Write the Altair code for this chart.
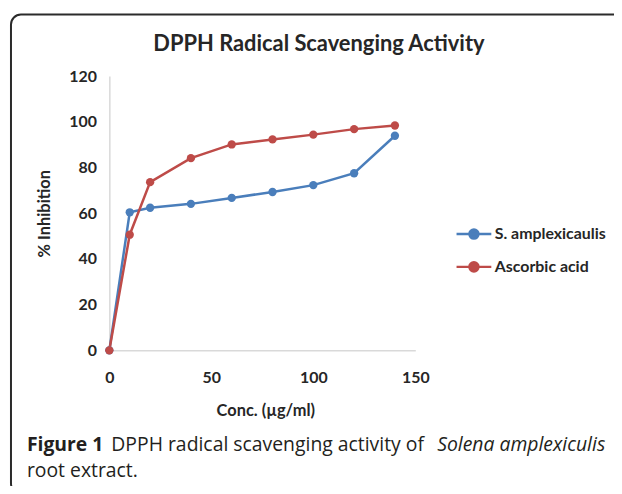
import altair as alt
import pandas as pd

conc = [0, 10, 20, 40, 60, 80, 100, 120, 140]
s_amplexicaulis = [0, 60.4, 62.4, 64.1, 66.7, 69.3, 72.3, 77.5, 93.9]
ascorbic_acid = [0, 50.6, 73.6, 84.1, 90.1, 92.3, 94.4, 96.8, 98.4]
series_names = ["S. amplexicaulis", "Ascorbic acid"]
series_colors = ["#4A7EBB", "#BE4B48"]
y_ticks = [0, 20, 40, 60, 80, 100, 120]
x_ticks = [0, 50, 100, 150]

rows = []
for name, vals in zip(series_names, [s_amplexicaulis, ascorbic_acid]):
    for c, v in zip(conc, vals):
        rows.append({"conc": c, "inh": v, "series": name})
df = pd.DataFrame(rows)

FONT = "Lato"
CAP_FONT = "Open Sans"

xenc = alt.X("conc:Q", scale=alt.Scale(domain=[0, 150], nice=False),
             axis=alt.Axis(values=x_ticks, title="Conc. (µg/ml)", ticks=False, grid=False,
                           domainColor="#D9D9D9", domainWidth=1.5, labelFlush=False,
                           labelFont=FONT, labelFontWeight="bold", labelFontSize=16,
                           labelColor="#262626", labelPadding=19,
                           titleFont=FONT, titleFontWeight="bold", titleFontSize=16.5,
                           titleColor="#262626", titleX=157, titleY=61,
                           titleBaseline="middle", titleAlign="center"))
yenc = alt.Y("inh:Q", scale=alt.Scale(domain=[0, 120], nice=False),
             axis=alt.Axis(values=y_ticks, title="% Inhibition", ticks=False, grid=False,
                           domainColor="#D9D9D9", domainWidth=1.5, labelFlush=False,
                           labelFont=FONT, labelFontWeight="bold", labelFontSize=16,
                           labelColor="#262626", labelPadding=13,
                           titleFont=FONT, titleFontWeight="bold", titleFontSize=16.5,
                           titleColor="#262626", titleX=-65, titleY=138, titleAngle=270,
                           titleBaseline="middle", titleAlign="center"))
color = alt.Color("series:N", scale=alt.Scale(domain=series_names, range=series_colors),
                  legend=alt.Legend(title=None, orient="none", legendX=348, legendY=140,
                                    symbolType="M-1,0H1M-0.26,0A0.26,0.26 0 1,0 0.26,0A0.26,0.26 0 1,0 -0.26,0Z",
                                    symbolSize=1225, symbolStrokeWidth=2.5,
                                    labelFont=FONT, labelFontWeight="bold", labelFontSize=16,
                                    labelColor="#262626", labelOffset=2, rowPadding=4,
                                    labelLimit=200))

lines = alt.Chart(df).mark_line(strokeWidth=2.5).encode(x=xenc, y=yenc, color=color,
                                                         order=alt.Order("conc:Q"))
points = alt.Chart(df).mark_point(filled=True, size=70, opacity=1).encode(x=xenc, y=yenc, color=color)

title = alt.Chart(pd.DataFrame({"t": ["DPPH Radical Scavenging Activity"]})).mark_text(
    font=FONT, fontWeight="bold", fontSize=22, color="#262626", align="center", baseline="alphabetic"
).encode(text="t:N", x=alt.value(211), y=alt.value(-25))

cap1 = alt.Chart(pd.DataFrame({"t": ["Figure 1"]})).mark_text(
    font=CAP_FONT, fontWeight="bold", fontSize=19.5, color="#231F20", align="left", baseline="alphabetic"
).encode(text="t:N", x=alt.value(-83), y=alt.value(377))
cap2 = alt.Chart(pd.DataFrame({"t": ["DPPH radical scavenging activity of"]})).mark_text(
    font=CAP_FONT, fontSize=19.5, color="#231F20", align="left", baseline="alphabetic"
).encode(text="t:N", x=alt.value(2), y=alt.value(377))
cap3 = alt.Chart(pd.DataFrame({"t": ["Solena amplexiculis"]})).mark_text(
    font=CAP_FONT, fontStyle="italic", fontSize=19.5, color="#231F20", align="left", baseline="alphabetic"
).encode(text="t:N", x=alt.value(330), y=alt.value(377))
cap4 = alt.Chart(pd.DataFrame({"t": ["root extract."]})).mark_text(
    font=CAP_FONT, fontSize=19.5, color="#231F20", align="left", baseline="alphabetic"
).encode(text="t:N", x=alt.value(-83), y=alt.value(404))

border = alt.Chart(pd.DataFrame({"a": [0]})).mark_rect(
    fillOpacity=0, stroke="#2b2b2b", strokeWidth=2, cornerRadius=10
).encode(x=alt.value(-99), x2=alt.value(540), y=alt.value(-62), y2=alt.value(420))

chart = alt.layer(border, lines, points, title, cap1, cap2, cap3, cap4).properties(
    width=308, height=276,
    padding={"left": 102, "top": 67, "right": 200, "bottom": 135},
    autosize=alt.AutoSizeParams(type="none"),
).configure_view(stroke=None)

chart.save("out.html", embed_options={"renderer": "svg", "actions": False})
